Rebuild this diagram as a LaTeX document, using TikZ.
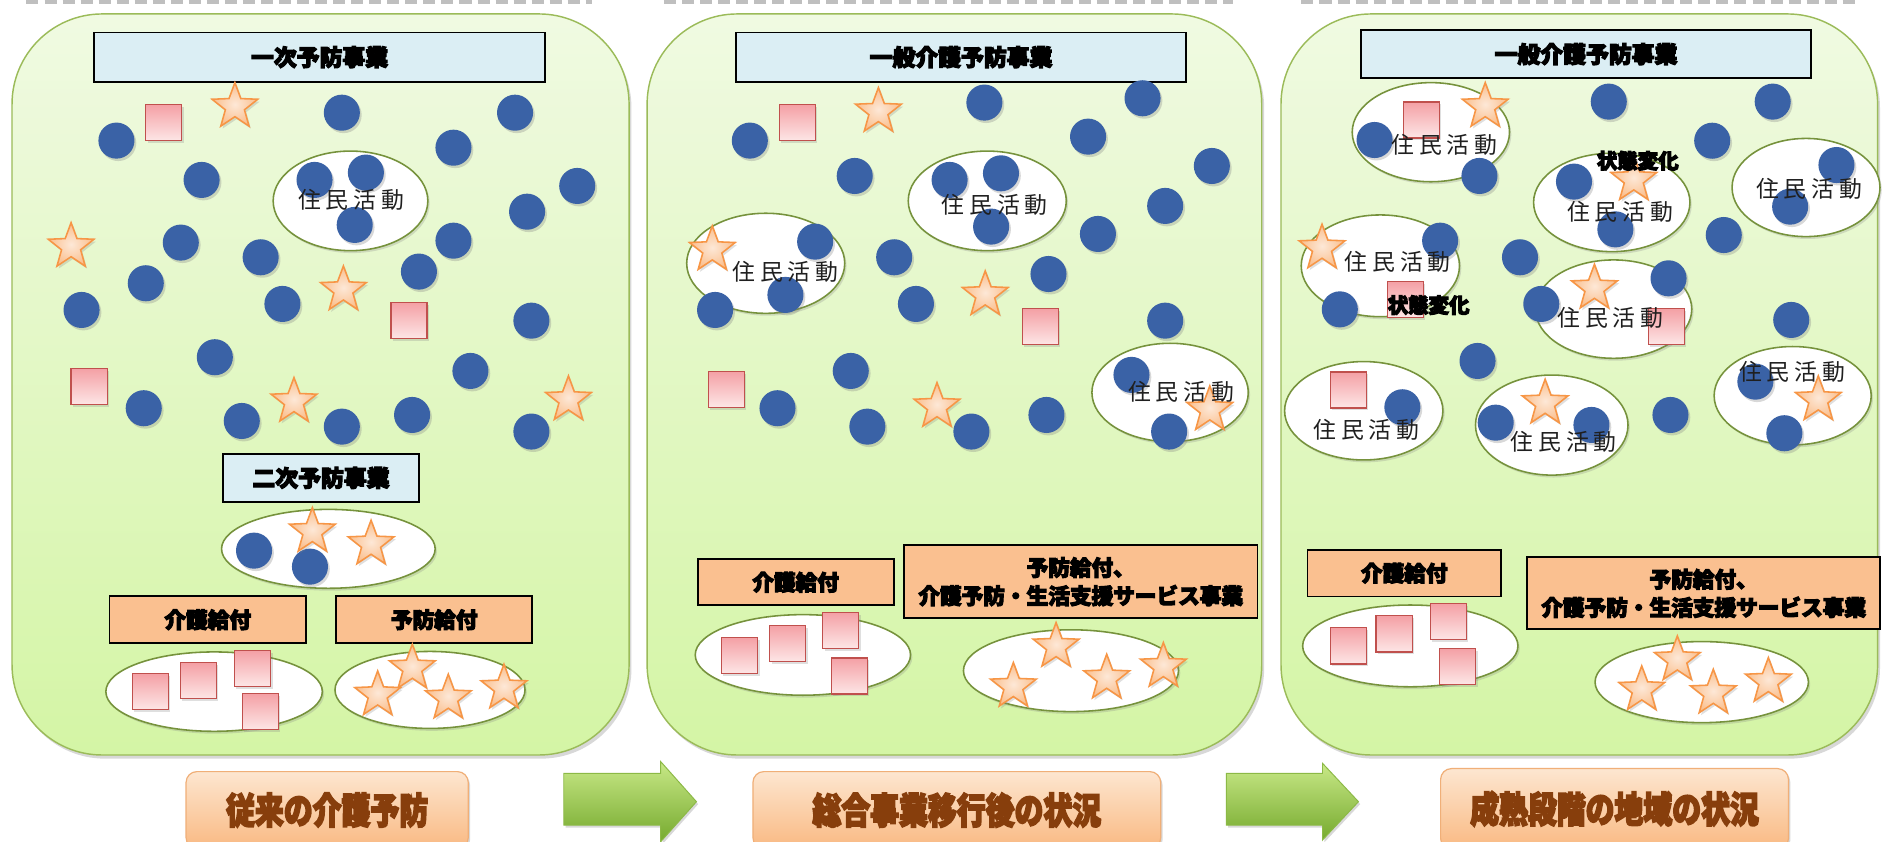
\documentclass[tikz,border=0pt]{standalone}
\usepackage{fontspec}
\setmainfont{Noto Sans CJK JP}
\newfontfamily\jpheavy{Noto Sans CJK JP}[FakeBold=5]
\usetikzlibrary{shapes.geometric,shadows}
\definecolor{panelTop}{RGB}{240,250,226}
\definecolor{panelBot}{RGB}{212,245,165}
\definecolor{panelBorder}{RGB}{155,187,89}
\definecolor{hdrBlue}{RGB}{219,238,244}
\definecolor{boxOrange}{RGB}{250,192,144}
\definecolor{dotBlue}{RGB}{58,98,166}
\definecolor{starEdge}{RGB}{247,150,70}
\definecolor{starIn}{RGB}{253,232,215}
\definecolor{starOut}{RGB}{250,190,140}
\definecolor{sqEdge}{RGB}{192,80,77}
\definecolor{sqTop}{RGB}{244,160,165}
\definecolor{sqBot}{RGB}{253,230,230}
\definecolor{ellEdge}{RGB}{118,146,60}
\definecolor{lblTop}{RGB}{253,230,208}
\definecolor{lblBot}{RGB}{249,185,130}
\definecolor{lblEdge}{RGB}{240,175,120}
\definecolor{lblText}{RGB}{135,62,12}
\definecolor{arrTop}{RGB}{200,232,135}
\definecolor{arrBot}{RGB}{118,170,46}
\definecolor{arrEdge}{RGB}{140,185,70}
\newcommand{\jmk}{住\kern4pt 民\kern4pt 活\kern4pt 動}
\tikzset{
  panel/.style={draw=panelBorder, line width=1.2pt, rounded corners=75pt,
    top color=panelTop, bottom color=panelBot,
    drop shadow={opacity=.3, shadow xshift=2pt, shadow yshift=-3pt}},
  topdash/.style={draw=black!25, line width=3pt, dash pattern=on 10pt off 5pt},
  hdr/.style={draw=black, line width=1.5pt, fill=hdrBlue, inner sep=0pt,
    font=\jpheavy\bfseries\fontsize{19}{22}\selectfont},
  obox/.style={draw=black, line width=1.5pt, fill=boxOrange, inner sep=0pt, align=center,
    font=\jpheavy\bfseries\fontsize{18}{23.5}\selectfont},
  blob/.style={ellipse, draw=ellEdge, line width=1.3pt, fill=white, inner sep=0pt,
    drop shadow={opacity=.25, shadow xshift=1.5pt, shadow yshift=-2pt}},
  dot/.style={circle, fill=dotBlue, minimum size=30pt, inner sep=0pt,
    drop shadow={opacity=.3, shadow xshift=1.5pt, shadow yshift=-2pt}},
  starp/.style={star, star points=5, star point ratio=2.4, minimum size=40pt, inner sep=0pt,
    draw=starEdge, line width=1.3pt, inner color=starIn, outer color=starOut,
    drop shadow={opacity=.25, shadow xshift=1.5pt, shadow yshift=-2pt}},
  sq/.style={rectangle, minimum size=30pt, inner sep=0pt, draw=sqEdge, line width=1pt,
    top color=sqTop, bottom color=sqBot,
    drop shadow={opacity=.25, shadow xshift=1.5pt, shadow yshift=-2pt}},
  jumin/.style={font=\fontsize{19}{19}\selectfont, text=black!88, inner sep=0pt},
  henka/.style={font=\jpheavy\bfseries\fontsize{17}{17}\selectfont, inner sep=0pt},
  lbl/.style={rounded corners=9pt, draw=lblEdge, line width=1pt, top color=lblTop, bottom color=lblBot,
    inner sep=0pt, text=lblText, font=\jpheavy\bfseries\fontsize{24}{24}\selectfont,
    drop shadow={opacity=.3, shadow xshift=1.5pt, shadow yshift=-2pt}},
  garrow/.style={draw=arrEdge, line width=.8pt, top color=arrTop, bottom color=arrBot,
    drop shadow={opacity=.3, shadow xshift=1.5pt, shadow yshift=-2pt}}
}
\begin{document}
\begin{tikzpicture}[x=1pt,y=-1pt]
\useasboundingbox (0,0) rectangle (1568,700);
\fill[white] (0,0) rectangle (1568,700);
% panels
\path[panel] (10,11.6) rectangle (523,627.7);
\path[panel] (538,11.6) rectangle (1049,627.7);
\path[panel] (1065,11.6) rectangle (1561,627.7);
% top dashes
\draw[topdash] (22,1.5) -- (492,1.5);
\draw[topdash] (552,1.5) -- (1025,1.5);
\draw[topdash] (1082,1.5) -- (1542,1.5);
% header boxes
\node[hdr, minimum width=375pt, minimum height=41pt] (p1h) at (265.7,47.5) {一次予防事業};
\node[hdr, minimum width=163.5pt, minimum height=39.7pt] (p1h2) at (266.9,397.3) {二次予防事業};
\node[obox, minimum width=163.4pt, minimum height=39.3pt] (p1k) at (172.7,515.2) {介護給付};
\node[obox, minimum width=163.2pt, minimum height=39.3pt] (p1y) at (361,515.2) {予防給付};
\node[hdr, minimum width=374.2pt, minimum height=41pt] (p2h) at (799,47.5) {一般介護予防事業};
\node[obox, minimum width=163pt, minimum height=38pt] (p2k) at (661.5,484) {介護給付};
\node[obox, minimum width=293.8pt, minimum height=60.9pt] (p2y) at (898.5,483.6) {予防給付、\\介護予防・生活支援サービス事業};
\node[hdr, minimum width=374.7pt, minimum height=40pt] (p3h) at (1318.6,45) {一般介護予防事業};
\node[obox, minimum width=161pt, minimum height=39pt] (p3k) at (1167.5,476.5) {介護給付};
\node[obox, minimum width=293.2pt, minimum height=59.9pt] (p3y) at (1416.4,493.3) {予防給付、\\介護予防・生活支援サービス事業};
% ellipses
\foreach \x/\y/\w/\h [count=\i] in {
  291.4/167/128.6/82.8, 273/456.3/177.6/65.6, 178/575/180/66, 357.5/573.6/158/64,
  820.8/167/131.4/82.8, 636.6/218.9/131.4/83.2, 972.8/326.3/130/81.8, 667.5/544.5/179/67, 890.4/557.6/178.8/68,
  1189.6/109.9/130.8/82.4, 1340/168.3/130/81.8, 1501.5/155.9/123/81.6, 1147.6/221/131.6/84.6,
  1341.5/257/130/81.8, 1490.4/329/130.6/81.8, 1133.8/341.5/131.6/81.8, 1290.1/353.4/126.8/83.2,
  1172.5/537/179/68, 1414.8/567.1/177.4/67.4}
  {\node[blob, minimum width=\w pt, minimum height=\h pt] (e\i) at (\x,\y) {};}
% dots
\foreach \x/\y [count=\i] in {
  96.8/116.9, 284.2/93.7, 428.2/93.7, 377/122.8, 167.6/149.6, 479.9/154.6, 438.2/176,
  261.5/149.6, 304.2/143.5, 294.9/187, 150.3/201.7, 216.7/213.9, 377/200.1, 348.3/225.8,
  121.2/235.5, 67.8/257.7, 234.8/252.7, 441.8/266.6, 178.6/297, 391.1/308.4, 119.5/339.4,
  201/350, 284.2/354.7, 342.6/345, 441.8/358.8, 211.2/457.8, 257.7/471.1,
  623.4/116.9, 818.4/85.3, 949.9/81.7, 904.6/113.6, 1007.5/138, 710.6/146.3, 789.5/149.6,
  832.2/144.1, 824/188.4, 968.7/171.2, 912.8/194.5, 677.7/200.9, 743.4/213.9, 871.7/227.8,
  653/245.2, 594.5/257.7, 761.5/252.7, 968.7/266.6, 707.3/308.4, 940.7/311.7, 646.4/339.4,
  721.1/354.7, 807.6/358.8, 870/345, 972/358.8,
  1337.5/84.5, 1473.8/84.5, 1423.5/117, 1433.1/195.4, 1263.7/213.9, 1489.2/266, 1228.4/300.1,
  1388.8/345, 1142.8/116.4, 1230/146.3, 1308.6/151, 1343/190.7, 1526.8/137.2, 1488.3/171.8,
  1197.3/200.1, 1113.9/257.2, 1281.4/252.7, 1387.2/231.4, 1459.4/317.3, 1483.5/360.2,
  1165.9/338.6, 1243.5/351.4, 1323.1/353.3}
  {\node[dot] (d\i) at (\x,\y) {};}
% squares
\foreach \x/\y [count=\i] in {
  136.2/102, 340/266.6, 74.1/321.4, 125/575, 165/566, 210.1/555.6, 216.7/591.6,
  662.9/102, 865.1/271.6, 603.7/323.6, 615/545, 655/535, 699/524, 706/562,
  1181.9/99.8, 1168.4/248.8, 1385.6/271.6, 1121/324.2, 1121/537, 1159/527, 1204/517, 1212/554}
  {\node[sq] (s\i) at (\x,\y) {};}
% stars
\foreach \x/\y [count=\i] in {
  195.3/88.7, 59.1/205.1, 285.5/241.1, 244.4/333.9, 472.6/332.5, 259.7/442, 308.5/452.5,
  342.8/555.6, 314/577.8, 372.7/580.5, 419/572.2,
  730.3/92.8, 592.2/207.8, 819.1/245.2, 779/338.1, 1005.8/340.8, 878/537.6, 842.5/570.8,
  920.1/563.9, 967.2/554.2,
  1234.8/88.7, 1358.3/149.6, 1099.1/206.4, 1325.6/239.7, 1511.7/332.5, 1284.6/335.3,
  1394.5/548.7, 1364.9/573.6, 1424.4/576.4, 1470.2/566.7}
  {\node[starp] (t\i) at (\x,\y) {};}
% texts
\foreach \x/\y [count=\i] in {
  292/166, 827/170, 653/226, 982/326,
  1201/120.5, 1347/176, 1504/157, 1162/217.5, 1339/264.6, 1490/309, 1136/357.5, 1300/367}
  {\node[jumin] (j\i) at (\x,\y) {\jmk};}
\node[henka] (h1) at (1361.6,133.6) {状態変化};
\node[henka] (h2) at (1187.7,253.6) {状態変化};
% bottom labels
\node[lbl, minimum width=234.6pt, minimum height=64pt] (L1) at (272,673.5) {\scalebox{1}[1.25]{従来の介護予防}};
\node[lbl, minimum width=339pt, minimum height=64pt] (L2) at (795.5,673.5) {\scalebox{1}[1.25]{総合事業移行後の状況}};
\node[lbl, minimum width=289.2pt, minimum height=67pt] (L3) at (1342.3,672.5) {\scalebox{1}[1.25]{成熟段階の地域の状況}};
% arrows
\path[garrow] (468.7,642.9) -- (549.3,642.9) -- (549.3,633.2) -- (579,666.5) -- (549.3,699.8) -- (549.3,686) -- (468.7,686) -- cycle;
\path[garrow] (1019.5,642.9) -- (1099.5,642.9) -- (1099.5,634.6) -- (1129.4,666.5) -- (1099.5,698.4) -- (1099.5,686) -- (1019.5,686) -- cycle;
\end{tikzpicture}
\end{document}
